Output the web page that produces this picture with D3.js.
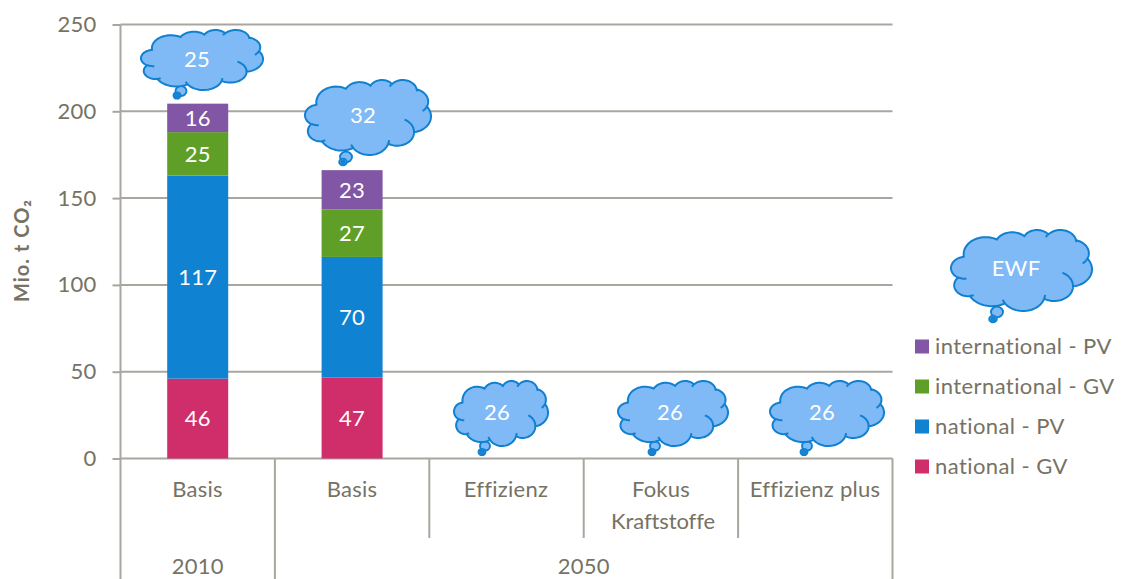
<!DOCTYPE html>
<html><head><meta charset="utf-8">
<script src="https://cdnjs.cloudflare.com/ajax/libs/d3/7.8.5/d3.min.js"></script>
<style>html,body{margin:0;padding:0;background:#fff}svg{display:block}text{font-family:Lato,Carlito,sans-serif;font-variant-ligatures:none}</style>
</head><body><svg id="c" width="1121" height="579"></svg>
<script>
const categories = ["Basis","Basis","Effizienz","Fokus\nKraftstoffe","Effizienz plus"];
const yearGroups = [{label:"2010",from:0,to:1},{label:"2050",from:1,to:5}];
const nationalGV = [46,46.6,0,0,0];
const nationalPV = [117,69.5,0,0,0];
const internationalGV = [25,27.4,0,0,0];
const internationalPV = [16.4,22.6,0,0,0];
const seriesNames = ["national - GV","national - PV","international - GV","international - PV"];
const seriesColors = ["#CF2E6B","#0F82D2","#5F9F27","#8156A5"];
const yTicks = [0,50,100,150,200,250];
const ewfLabels = ["25","32","26","26","26","EWF"];

const W=1121,H=579,textCol="#767264",gridCol="#A8A69E",fs=22,ls=0.25;
const svg=d3.select("#c");
const x=d3.scaleBand().domain(d3.range(categories.length)).range([120.5,892.5]).paddingInner(0).paddingOuter(0);
const y=d3.scaleLinear().domain([0,250]).range([458.5,24.5]);
const barW=61;

// grid and y axis
const yAxis=d3.axisLeft(y).tickValues(yTicks).tickSize(8).tickPadding(16);
const gy=svg.append("g").attr("transform","translate(120.5,0)").call(yAxis);
gy.select(".domain").remove();
gy.selectAll("line").attr("stroke",gridCol).attr("stroke-width",2);
gy.selectAll("text").attr("fill",textCol).attr("font-size",fs).attr("font-family","Lato").attr("letter-spacing",ls);
svg.append("g").selectAll("line").data(yTicks).join("line")
  .attr("x1",120.5).attr("x2",892.5).attr("y1",d=>y(d)).attr("y2",d=>y(d))
  .attr("stroke",gridCol).attr("stroke-width",2);
svg.append("line").attr("x1",120.5).attr("x2",120.5).attr("y1",y(250)).attr("y2",H).attr("stroke",gridCol).attr("stroke-width",2);

// category separators
const edges=d3.range(categories.length+1).map(i=>i<categories.length?x(i):x.range()[1]);
const yearEdges=new Set(yearGroups.map(g=>g.from).concat([categories.length]));
svg.append("g").selectAll("line").data(edges.slice(1)).join("line")
  .attr("x1",d=>d).attr("x2",d=>d).attr("y1",y(0))
  .attr("y2",(d,i)=>yearEdges.has(i+1)?H:538)
  .attr("stroke",gridCol).attr("stroke-width",2);

// stacked bars
const rows=categories.map((c,i)=>({i,nationalGV:nationalGV[i],nationalPV:nationalPV[i],internationalGV:internationalGV[i],internationalPV:internationalPV[i]}));
const keys=["nationalGV","nationalPV","internationalGV","internationalPV"];
const stack=d3.stack().keys(keys)(rows);
stack.forEach((s,k)=>{
  const g=svg.append("g");
  const ds=s.map((d,i)=>({i,y0:d[0],y1:d[1]})).filter(d=>d.y1>d.y0);
  g.selectAll("rect").data(ds).join("rect")
    .attr("x",d=>x(d.i)+x.bandwidth()/2-barW/2).attr("width",barW)
    .attr("y",d=>y(d.y1)).attr("height",d=>y(d.y0)-y(d.y1)).attr("fill",seriesColors[k]);
  g.selectAll("text").data(ds).join("text")
    .attr("x",d=>x(d.i)+x.bandwidth()/2).attr("y",d=>(y(d.y0)+y(d.y1))/2)
    .attr("dy","0.36em").attr("text-anchor","middle").attr("fill","#fff").attr("font-size",fs).attr("letter-spacing",ls)
    .text(d=>Math.round(d.y1-d.y0));
});

// category labels
const catX=[197.5,352,506,663,815];
categories.forEach((c,i)=>{
  c.split("\n").forEach((t,j)=>{
    svg.append("text").attr("x",catX[i]-(j===0&&i===3?2:0)).attr("y",497+j*32).attr("text-anchor","middle")
      .attr("fill",textCol).attr("font-size",fs).attr("letter-spacing",j===1?-0.1:ls).text(t);
  });
});
yearGroups.forEach(g=>{
  const a=edges[g.from],b=edges[g.to];
  svg.append("text").attr("x",(a+b)/2).attr("y",574).attr("text-anchor","middle")
    .attr("fill",textCol).attr("font-size",fs).attr("letter-spacing",ls).text(g.label);
});

// y title
svg.append("text").attr("transform","translate(29,250.5) rotate(-90)").attr("text-anchor","middle")
  .attr("fill",textCol).attr("font-size",20).attr("font-weight",700).attr("letter-spacing",1).text("Mio. t CO₂");

// legend
const legendY=d3.scalePoint().domain(d3.range(4)).range([466.5,346.5]);
seriesNames.forEach((n,k)=>{
  svg.append("rect").attr("x",915).attr("y",legendY(k)-7).attr("width",14).attr("height",14).attr("fill",seriesColors[k]);
  svg.append("text").attr("x",935).attr("y",legendY(k)).attr("dy","0.36em").attr("fill",textCol)
    .attr("font-size",fs).attr("letter-spacing",0.42).text(n);
});

// cloud callouts (OOXML cloud preset geometry)
function arcPts(ctx,st,wR,hR,stAng,swAng){
  const rad=a=>a/60000*Math.PI/180;
  const t=a=>Math.atan2(wR*Math.sin(a),hR*Math.cos(a));
  const a0=rad(stAng),a1=rad(stAng+swAng);
  let t0=t(a0),t1=t(a1);
  if(swAng>0){while(t1<t0)t1+=2*Math.PI;}else{while(t1>t0)t1-=2*Math.PI;}
  const cx=st[0]-wR*Math.cos(t0),cy=st[1]-hR*Math.sin(t0);
  let p=st;
  for(let i=1;i<=24;i++){
    const u=t0+(t1-t0)*i/24;
    p=[cx+wR*Math.cos(u),cy+hR*Math.sin(u)];
    ctx.push(p);
  }
  return p;
}
const outerArcs=[[6753,9190,-11429249,7426832],[5333,7267,-8646143,5396714],[4365,5945,-8748475,5983381],[4857,6595,-7859164,7034504],[5333,7273,-4722533,6541615],[6775,9220,-2776035,7816140],[5785,7867,37501,6842000],[6752,9215,1347096,6910353],[7720,10543,3974558,4542661],[4360,5918,-16496525,8804134],[4345,5945,-14809710,9151131]];
const innerArcs=[[4693,26177,4345,5945,5204520,1585770],[6928,34899,4360,5918,4416628,686848],[16478,39090,6752,9215,8257449,844866],[28827,34751,6752,9215,387196,959901],[34129,22954,5785,7867,-4217541,4255042],[41798,15354,5333,7273,1819082,1665090],[38324,5426,4857,6595,-824660,891534],[29078,3952,4365,5945,-8950887,882000]];
const outerPts=(()=>{const pts=[[3900,14370]];let p=pts[0];outerArcs.forEach(a=>{p=arcPts(pts,p,...a);});return pts;})();
const xs=d3.extent(outerPts,d=>d[0]),ys=d3.extent(outerPts,d=>d[1]);

function drawCloud(box,label,lab,tail){
  const g=svg.append("g");
  const sx=d3.scaleLinear().domain(xs).range([box[0],box[1]]);
  const sy=d3.scaleLinear().domain(ys).range([box[2],box[3]]);
  const line=d3.line().x(d=>sx(d[0])).y(d=>sy(d[1]));
  tail.forEach((c,i)=>g.append("ellipse").attr("cx",c[0]).attr("cy",c[1]).attr("rx",c[2]).attr("ry",c[2]*0.9)
    .attr("fill",i===0?"#7FB9F6":"#4E9FE6").attr("stroke","#1080D0").attr("stroke-width",1.9));
  g.append("path").attr("d",line(outerPts)+"Z").attr("fill","#7FB9F6").attr("stroke","#1080D0").attr("stroke-width",2);
  innerArcs.forEach(a=>{
    const pts=[[a[0],a[1]]];arcPts(pts,pts[0],a[2],a[3],a[4],a[5]);
    g.append("path").attr("d",line(pts)).attr("fill","none").attr("stroke","#1080D0").attr("stroke-width",2);
  });
  g.append("text").attr("x",lab[0]).attr("y",lab[1]).attr("dy","0.36em").attr("text-anchor","middle")
    .attr("fill","#fff").attr("font-size",fs).attr("letter-spacing",ls).text(label);
}
const cloudLayout=[
 {box:[141,263,30,90],lab:[197,59],tail:[[181,91,5.5],[177,95.5,3.5],[177,95.5,1.5]]},
 {box:[305,431,80,155],lab:[363,115],tail:[[346,157,6],[343,162,3.8],[343,162,1.5]]},
 {box:[454,548,381,446],lab:[497,412],tail:[[485,446,5],[482,452,3.5],[482,452,1.5]]},
 {box:[618,728,381,446],lab:[670,412],tail:[[655,446,5],[652,452,3.5],[652,452,1.5]]},
 {box:[770,884,381,446],lab:[822,412],tail:[[807,446,5],[804,452,3.5],[804,452,1.5]]},
 {box:[951,1092,230,311],lab:[1016,268],tail:[[997,312,6],[993,319,3.8],[993,319,1.5]]}
];
cloudLayout.forEach((c,i)=>drawCloud(c.box,ewfLabels[i],c.lab,c.tail));
</script></body></html>
